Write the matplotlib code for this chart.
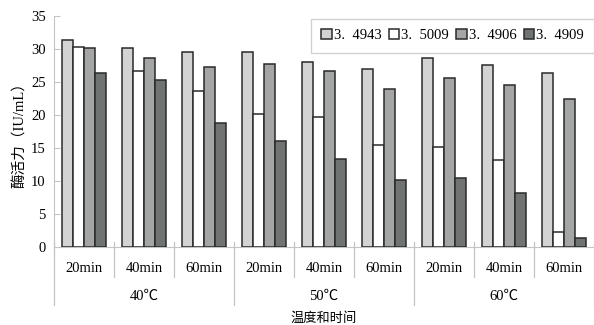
import matplotlib
matplotlib.use("Agg")
import matplotlib.pyplot as plt
from matplotlib.transforms import blended_transform_factory
import numpy as np

plt.rcParams['font.family'] = ['Liberation Serif', 'Noto Sans CJK SC', 'DejaVu Sans']

times = ["20min", "40min", "60min"] * 3
temps = ["40℃", "50℃", "60℃"]
series_names = ["3.\u20024943", "3.\u20025009", "3.\u20024906", "3.\u20024909"]

s_4943 = [31.3, 30.1, 29.6, 29.5, 28.0, 27.0, 28.6, 27.6, 26.4]
s_5009 = [30.3, 26.7, 23.6, 20.2, 19.7, 15.4, 15.2, 13.2, 2.2]
s_4906 = [30.1, 28.6, 27.2, 27.8, 26.7, 23.9, 25.6, 24.5, 22.4]
s_4909 = [26.4, 25.3, 18.8, 16.0, 13.4, 10.1, 10.5, 8.2, 1.3]

series = [s_4943, s_5009, s_4906, s_4909]
colors = ["#d2d3d3", "#ffffff", "#a4a5a5", "#6f7373"]
grid_c = "#c4c4c4"

fig = plt.figure(figsize=(5.94, 3.25), dpi=100)
ax = fig.add_axes([54 / 594, 1 - 247 / 325, 540 / 594, 231 / 325])

x = np.arange(len(times))
w = 0.18
for i, (vals, c) in enumerate(zip(series, colors)):
    ax.bar(x + (i - 1.5) * w, vals, width=w, color=c, edgecolor="#2a2a2a",
           linewidth=1.1, label=series_names[i], zorder=3)

ax.set_xlim(-0.5, len(times) - 0.5)
ax.set_ylim(0, 35)
ax.set_yticks(range(0, 36, 5))
ax.tick_params(axis="y", direction="in", length=4, color=grid_c, labelsize=10.5, pad=6)
ax.set_xticks([])
for side in ["top", "right"]:
    ax.spines[side].set_visible(False)
ax.spines["left"].set_color(grid_c)
ax.spines["bottom"].set_color(grid_c)

ax.set_ylabel("酶活力（IU/mL）", fontsize=10.5, labelpad=3)

# two-level category axis below the plot
tr = blended_transform_factory(ax.transData, ax.transAxes)
px = 1 / 231.0
for k in range(len(times) + 1):
    xb = k - 0.5
    if k % 3 == 0:
        y_end = -58 * px
    else:
        y_end = -30 * px
    ax.plot([xb, xb], [5 * px, y_end], color=grid_c, lw=0.9, transform=tr, clip_on=False)

for k, t in enumerate(times):
    ax.text(k, -21 * px, t, ha="center", va="center", fontsize=10.5, transform=tr)
for g, t in enumerate(temps):
    ax.text(3 * g + 1, -49 * px, t, ha="center", va="center", fontsize=10.5, transform=tr)
ax.text(4.0, -71 * px, "温度和时间", ha="center", va="center", fontsize=9.5, transform=tr)

leg = ax.legend(loc="upper right", bbox_to_anchor=(1.0, 1 - 3 * px), ncol=4,
                frameon=True, fancybox=False, edgecolor=grid_c, fontsize=10.5,
                handlelength=0.7, handleheight=0.7, handletextpad=0.15,
                columnspacing=0.5, borderpad=0.7, borderaxespad=0)
leg.get_frame().set_linewidth(0.9)

fig.savefig("out.png", dpi=100)
